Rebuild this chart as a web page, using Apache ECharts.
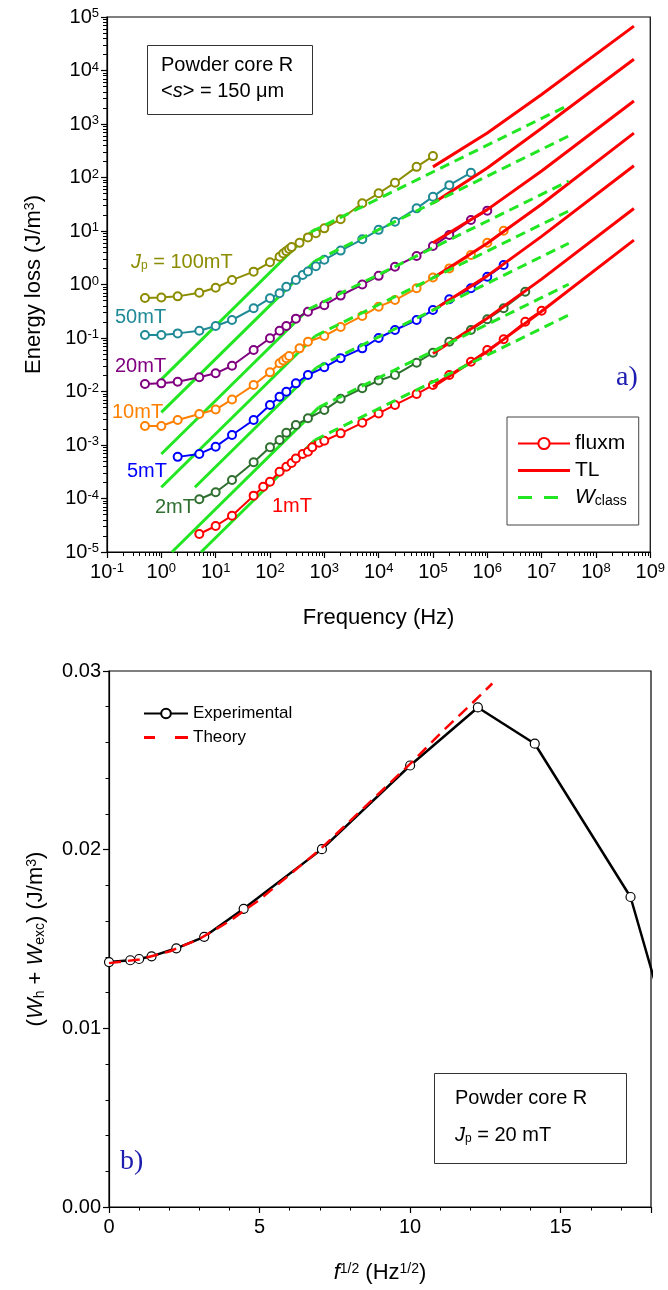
<!DOCTYPE html>
<html><head><meta charset="utf-8">
<script src="https://cdn.jsdelivr.net/npm/echarts@6.0.0/dist/echarts.min.js"></script>
<style>html,body{margin:0;padding:0;background:#fff}#c{width:668px;height:1290px}</style>
</head><body><div id="c"></div>
<script>
// ---------- tick labels ----------
const freqTickExps = ['-1','0','1','2','3','4','5','6','7','8','9'];
const lossTickExps = ['-5','-4','-3','-2','-1','0','1','2','3','4','5'];
const levelNames = ['100mT','50mT','20mT','10mT','5mT','2mT','1mT'];

// ---------- panel a) : fluxm measurements [f (Hz), W (J/m3)] ----------
const flux100 = [[0.5,0.56],[1,0.57],[2,0.60],[5,0.70],[10,0.87],[20,1.21],[50,1.74],[100,2.6],[150,3.3],[175,3.8],[200,4.2],[225,4.6],[250,5.0],[350,6.0],[500,7.6],[700,9.1],[1000,11.2],[2000,16.6],[5000,33],[10000,50.7],[20000,80],[50000,158],[100000,251]];
const flux50 = [[0.5,0.114],[1,0.114],[2,0.122],[5,0.137],[10,0.168],[20,0.217],[50,0.359],[100,0.552],[150,0.685],[200,0.91],[300,1.21],[400,1.5],[500,1.75],[700,2.2],[1000,2.9],[2000,4.3],[5000,7.0],[10000,10.5],[20000,14.9],[50000,26.5],[100000,43.8],[200000,72],[500000,123]];
const flux20 = [[0.5,0.0138],[1,0.0142],[2,0.0152],[5,0.0184],[10,0.0219],[20,0.0303],[50,0.0597],[100,0.0987],[150,0.137],[200,0.168],[300,0.23],[500,0.31],[1000,0.41],[2000,0.62],[5000,1.0],[10000,1.45],[20000,2.15],[50000,3.41],[100000,5.25],[200000,8.4],[500000,16.1],[1000000,24]];
const flux10 = [[0.5,0.00226],[1,0.00226],[2,0.00293],[5,0.0038],[10,0.0046],[20,0.0071],[50,0.0132],[100,0.0228],[150,0.0337],[175,0.038],[200,0.0417],[225,0.046],[350,0.064],[500,0.085],[1000,0.109],[2000,0.16],[5000,0.258],[10000,0.385],[20000,0.513],[50000,0.85],[100000,1.35],[200000,2.0],[500000,3.56],[1000000,6.04],[2000000,10.1]];
const flux5 = [[2,0.0006],[5,0.00068],[10,0.00093],[20,0.00154],[50,0.00293],[100,0.0056],[150,0.008],[200,0.0099],[300,0.0142],[500,0.0203],[1000,0.0283],[2000,0.042],[5000,0.064],[10000,0.1],[20000,0.141],[50000,0.217],[100000,0.333],[200000,0.528],[500000,0.849],[1000000,1.4],[2000000,2.31]];
const flux2 = [[5,0.000097],[10,0.000131],[20,0.000222],[50,0.000475],[100,0.00091],[150,0.00124],[200,0.0017],[300,0.00237],[500,0.00316],[1000,0.0045],[2000,0.0073],[5000,0.0115],[10000,0.016],[20000,0.0203],[50000,0.0345],[100000,0.053],[200000,0.085],[500000,0.141],[1000000,0.224],[2000000,0.359],[5000000,0.734]];
const flux1 = [[5,0.0000217],[10,0.0000306],[20,0.0000477],[50,0.000113],[75,0.000166],[100,0.000206],[150,0.000317],[200,0.000393],[250,0.00046],[300,0.00056],[400,0.00068],[500,0.00075],[600,0.00091],[800,0.0011],[1000,0.0012],[2000,0.00165],[5000,0.0026],[10000,0.0039],[20000,0.0056],[50000,0.00897],[100000,0.0132],[200000,0.0203],[500000,0.036],[1000000,0.0597],[2000000,0.0946],[5000000,0.202],[10000000,0.324]];

// ---------- panel a) : TL model ----------
const tl100 = [[100000,158],[1000000,676],[10000000,3550],[500000000,67600]];
const tl50 = [[100000,33.1],[1000000,151],[10000000,832],[500000000,16200]];
const tl20 = [[100000,6.03],[1000000,25.1],[10000000,132],[500000000,2690]];
const tl10 = [[100000,1.32],[1000000,5.89],[10000000,31.6],[500000000,676]];
const tl5 = [[100000,0.331],[1000000,1.45],[10000000,7.94],[500000000,166]];
const tl2 = [[100000,0.0513],[1000000,0.234],[10000000,1.26],[500000000,26.3]];
const tl1 = [[100000,0.0123],[1000000,0.0562],[10000000,0.316],[500000000,6.76]];

// ---------- panel a) : W_class, low-frequency (solid) and high-frequency (dashed) parts ----------
const wLow100 = [[1,0.0169],[570,9.6]];
const wLow50 = [[1,0.00408],[680,2.76]];
const wLow20 = [[1,0.00068],[510,0.345]];
const wLow10 = [[1,0.000162],[680,0.109]];
const wLow5 = [[4.15,0.000162],[720,0.0281]];
const wLow2 = [[1.57,0.00001],[790,0.00505]];
const wLow1 = [[5.4,0.00001],[670,0.00124]];
const wHigh100 = [[570,9.6],[31600000,2260]];
const wHigh50 = [[680,2.76],[31600000,597]];
const wHigh20 = [[510,0.345],[31600000,86]];
const wHigh10 = [[680,0.109],[31600000,23.7]];
const wHigh5 = [[720,0.0281],[31600000,5.9]];
const wHigh2 = [[790,0.00505],[31600000,1.01]];
const wHigh1 = [[670,0.00124],[31600000,0.269]];

// ---------- panel b) ----------
const expSqrtF = [0, 0.707, 1.0, 1.414, 2.236, 3.162, 4.472, 7.071, 10.0, 12.25, 14.14, 17.32, 18.71];
const expW = [0.01371, 0.01381, 0.01388, 0.01403, 0.01448, 0.01512, 0.01669, 0.02003, 0.02471, 0.02796, 0.02593, 0.01735, 0.0092];
const theorySqrtF = [0, 1, 2, 3, 4, 5, 6, 7, 8, 9, 10, 11, 12, 12.73];
const theoryW = [0.01365, 0.01385, 0.0143, 0.0150, 0.0160, 0.0172, 0.0186, 0.0200, 0.0216, 0.0232, 0.0248, 0.0265, 0.0281, 0.0293];
const bXTicks = ['0','5','10','15'];
const bYTicks = ['0.00','0.01','0.02','0.03'];

// minor tick positions of the log axes (2..9 within each decade)
const logMinorMultipliers = [2,3,4,5,6,7,8,9];
const decadesX = [0.1,1,10,100,1e3,1e4,1e5,1e6,1e7,1e8];
const decadesY = [1e-5,1e-4,1e-3,1e-2,1e-1,1,10,100,1e3,1e4];
const minorXVals = [];
decadesX.forEach(d => logMinorMultipliers.forEach(m => minorXVals.push(d * m)));
const minorYVals = [];
decadesY.forEach(d => logMinorMultipliers.forEach(m => minorYVals.push(d * m)));

// ---------- styling ----------
const FONT = '"Liberation Sans", Arial, sans-serif';
const levelColors = ['#8c8c00','#1f8a96','#800080','#ff8000','#0000ff','#2f6f2f','#ff0000'];
const green = '#22e622';
const fluxSets = [flux100, flux50, flux20, flux10, flux5, flux2, flux1];
const tlSets = [tl100, tl50, tl20, tl10, tl5, tl2, tl1];
const lowSets = [wLow100, wLow50, wLow20, wLow10, wLow5, wLow2, wLow1];
const highSets = [wHigh100, wHigh50, wHigh20, wHigh10, wHigh5, wHigh2, wHigh1];

const series = [];
lowSets.forEach((d, i) => series.push({type:'line', name:'Wlow ' + levelNames[i], xAxisIndex:0, yAxisIndex:0, data:d, symbol:'none', lineStyle:{color:green, width:3}, itemStyle:{color:green}, z:2}));
fluxSets.forEach((d, i) => series.push({type:'line', name: i === 6 ? 'fluxm' : 'fluxm ' + levelNames[i], xAxisIndex:0, yAxisIndex:0, data:d, symbol:'emptyCircle', symbolSize:8, lineStyle:{color:levelColors[i], width:2}, itemStyle:{color:levelColors[i], borderWidth:1.2}, z:3}));
tlSets.forEach((d, i) => series.push({type:'line', name:'TL', xAxisIndex:0, yAxisIndex:0, data:d, symbol:'none', lineStyle:{color:'#ff0000', width:3}, itemStyle:{color:'#ff0000'}, z:4}));
highSets.forEach((d, i) => series.push({type:'line', name:'W_class', xAxisIndex:0, yAxisIndex:0, data:d, symbol:'none', lineStyle:{color:green, width:3, type:[10,6]}, itemStyle:{color:green}, z:5}));

series.push({type:'line', name:'Experimental', xAxisIndex:1, yAxisIndex:1, data: expSqrtF.map((x, i) => [x, expW[i]]), symbol:'circle', symbolSize:9, lineStyle:{color:'#000', width:2.5}, itemStyle:{color:'#fff', borderColor:'#000', borderWidth:1.2}, z:3});
series.push({type:'line', name:'Theory', xAxisIndex:1, yAxisIndex:1, data: theorySqrtF.map((x, i) => [x, theoryW[i]]), symbol:'none', lineStyle:{color:'#ff0000', width:2.5, type:[12,7]}, itemStyle:{color:'#ff0000'}, z:4});

const powRich = {b:{fontSize:20, fontFamily:FONT, color:'#000'}, s:{fontSize:13, fontFamily:FONT, color:'#000', verticalAlign:'top'}};
const axisCommon = {
  axisLine:{show:true, onZero:false, lineStyle:{color:'#000', width:1.2}},
  axisTick:{show:true, inside:false, length:6, lineStyle:{color:'#000', width:1.2}},
  splitLine:{show:false},
  nameTextStyle:{fontFamily:FONT, fontSize:22, color:'#000'}
};
const minorAxisCommon = {
  axisLine:{show:false}, axisLabel:{show:false}, splitLine:{show:false}
};

const labelText = (txt, color, x, y, size) => ({type:'text', left:x, top:y, z:20, style:{text:txt, fill:color, font: size + 'px ' + FONT, rich:{i:{fontStyle:'italic', fontSize:size, fill:color, fontFamily:FONT}, sub:{fontSize:Math.round(size*0.62), fill:color, fontFamily:FONT, verticalAlign:'bottom', padding:[8,0,0,0]}}}});

const option = {
  animation:false,
  backgroundColor:'#fff',
  tooltip:{show:false},
  grid:[
    {left:107, top:17, width:544, height:535, show:true, borderColor:'#000', borderWidth:1.2, backgroundColor:'transparent'},
    {left:109, top:671, width:542, height:536, show:true, borderColor:'#000', borderWidth:1.2, backgroundColor:'transparent'}
  ],
  xAxis:[
    Object.assign({}, axisCommon, {type:'log', logBase:10, gridIndex:0, position:'bottom', min:0.1, max:1e9, interval:1,
      axisLabel:{margin:10, formatter:(v, i) => '{b|10}{s|' + freqTickExps[i] + '}', rich:powRich},
      name:'Frequency (Hz)', nameLocation:'middle', nameGap:55}),
    Object.assign({}, axisCommon, {type:'value', gridIndex:1, min:0, max:18, interval:5,
      minorTick:{show:true, splitNumber:5, length:3.5, lineStyle:{color:'#000', width:1}},
      axisLabel:{margin:10, showMaxLabel:false, fontFamily:FONT, fontSize:20, color:'#000', formatter:(v, i) => bXTicks[i] !== undefined ? bXTicks[i] : ''},
      name:'{i|f}{s|1/2} (Hz{s|1/2})', nameLocation:'middle', nameGap:55,
      nameTextStyle:{fontFamily:FONT, fontSize:22, color:'#000', rich:{i:{fontStyle:'italic', fontSize:22, fontFamily:FONT}, s:{fontSize:14, fontFamily:FONT, verticalAlign:'top'}}}}),
    Object.assign({}, minorAxisCommon, {type:'log', logBase:10, gridIndex:0, position:'bottom', offset:0, min:0.1, max:1e9,
      axisTick:{show:true, inside:false, length:4, customValues:minorXVals, lineStyle:{color:'#000', width:1}}})
  ],
  yAxis:[
    Object.assign({}, axisCommon, {type:'log', logBase:10, gridIndex:0, position:'left', min:1e-5, max:1e5, interval:1,
      axisLabel:{margin:8, formatter:(v, i) => '{b|10}{s|' + lossTickExps[i] + '}', rich:powRich},
      name:'Energy loss (J/m{s|3})', nameLocation:'middle', nameGap:62,
      nameTextStyle:{fontFamily:FONT, fontSize:22, color:'#000', rich:{s:{fontSize:14, fontFamily:FONT, verticalAlign:'top'}}}}),
    Object.assign({}, axisCommon, {type:'value', gridIndex:1, min:0, max:0.03, interval:0.01,
      minorTick:{show:true, splitNumber:5, length:3.5, lineStyle:{color:'#000', width:1}},
      axisLabel:{margin:8, fontFamily:FONT, fontSize:20, color:'#000', formatter:(v, i) => bYTicks[i]},
      name:'({i|W}{sub|h} + {i|W}{sub|exc}) (J/m{s|3})', nameLocation:'middle', nameGap:62,
      nameTextStyle:{fontFamily:FONT, fontSize:22, color:'#000', rich:{i:{fontStyle:'italic', fontSize:22, fontFamily:FONT}, sub:{fontSize:14, fontFamily:FONT, verticalAlign:'bottom'}, s:{fontSize:14, fontFamily:FONT, verticalAlign:'top'}}}}),
    Object.assign({}, minorAxisCommon, {type:'log', logBase:10, gridIndex:0, position:'left', offset:0, min:1e-5, max:1e5,
      axisTick:{show:true, inside:false, length:4, customValues:minorYVals, lineStyle:{color:'#000', width:1}}})
  ],
  legend:[
    {orient:'vertical', left:507, top:417, padding:[16,12,17,10], itemGap:6, itemWidth:52, itemHeight:14, symbolKeepAspect:true,
     borderColor:'#444', borderWidth:1, backgroundColor:'#fff',
     data:[{name:'fluxm'}, {name:'TL', icon:'path://M0,0H52V3H0Z'}, {name:'W_class', icon:'path://M0,0H14V3H0Z M26,0H40V3H26Z M51.9,1.4H52V1.5H51.9Z'}],
     textStyle:{fontFamily:FONT, fontSize:21, color:'#000', rich:{i:{fontStyle:'italic', fontSize:21, fontFamily:FONT}, s:{fontSize:14, fontFamily:FONT, verticalAlign:'bottom'}}},
     formatter:(n) => n === 'W_class' ? '{i|W}{s|class}' : n},
    {orient:'vertical', left:143, top:705, padding:0, itemGap:7, itemWidth:44, itemHeight:12, symbolKeepAspect:true,
     data:[{name:'Experimental'}, {name:'Theory', icon:'path://M0,0H11V3H0Z M31,0H44V3H31Z'}],
     textStyle:{fontFamily:FONT, fontSize:17, color:'#000'}}
  ],
  graphic:{elements:[
    {type:'rect', left:147, top:45, z:10, shape:{width:165, height:69}, style:{fill:'#fff', stroke:'#333', lineWidth:1}},
    labelText('Powder core R', '#000', 161, 55, 20),
    labelText('<{i|s}> = 150 μm', '#000', 161, 81, 20),
    labelText('{i|J}{sub|p} = 100mT', levelColors[0], 131, 252, 20),
    labelText('50mT', levelColors[1], 115, 307, 20),
    labelText('20mT', levelColors[2], 115, 356, 20),
    labelText('10mT', levelColors[3], 112, 402, 20),
    labelText('5mT', levelColors[4], 127, 461, 20),
    labelText('2mT', levelColors[5], 155, 497, 20),
    labelText('1mT', levelColors[6], 272, 496, 20),
    {type:'text', left:616, top:364, z:20, style:{text:'a)', fill:'#1c1cb0', font:'28px "Liberation Serif", "Times New Roman", serif'}},
    {type:'rect', left:434, top:1073, z:10, shape:{width:192, height:90}, style:{fill:'#fff', stroke:'#333', lineWidth:1}},
    labelText('Powder core R', '#000', 455, 1088, 20),
    labelText('{i|J}{sub|p} = 20 mT', '#000', 455, 1125, 20),
    {type:'text', left:120, top:1148, z:20, style:{text:'b)', fill:'#1c1cb0', font:'28px "Liberation Serif", "Times New Roman", serif'}}
  ]},
  series: series
};
const chart = echarts.init(document.getElementById('c'), null, {renderer:'canvas', width:668, height:1290});
chart.setOption(option);
</script>
</body></html>
